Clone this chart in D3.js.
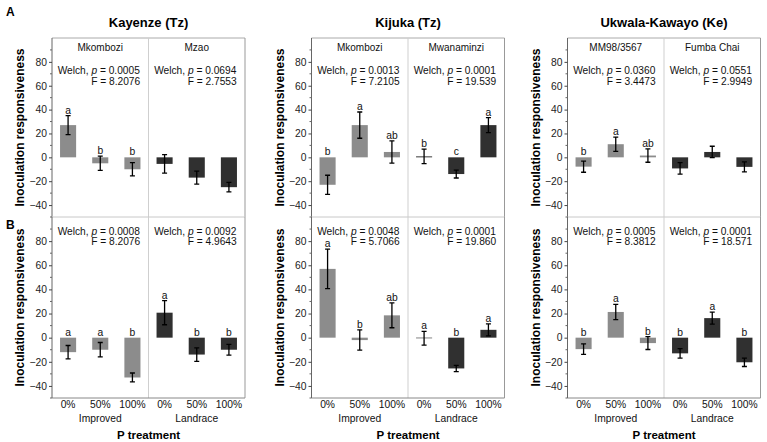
<!DOCTYPE html>
<html><head><meta charset="utf-8">
<script src="https://cdn.jsdelivr.net/npm/d3@7"></script>
<style>body{margin:0;background:#fff}svg{display:block}text{font-family:"Liberation Sans",Arial,sans-serif}</style>
</head><body>
<svg id="chart" width="767" height="442"></svg>
<script>
const sites = ["Kayenze (Tz)", "Kijuka (Tz)", "Ukwala-Kawayo (Ke)"];
const cultivars = [["Mkombozi","Mzao"],["Mkombozi","Mwanaminzi"],["MM98/3567","Fumba Chai"]];
const treatments = ["0%","50%","100%"];
const groups = ["Improved","Landrace"];
const yTicks = [-40,-20,0,20,40,60,80];
const yMinor = [-50,-30,-10,10,30,50,70,90];
const meansA = [[27,-5,-10,-5.5,-17,-25],[-23,27,4.5,0.8,-14,27],[-7.8,11,1.5,-9.3,4.5,-8]];
const errsA  = [[8,6,5.5,7.7,5.5,4],[8,11,9.3,6,3.3,6.3],[4.7,6,5.6,4.8,4.8,4.2]];
const lettersA = [["a","b","b","","",""],["b","a","ab","b","c","a"],["b","a","ab","","",""]];
const meansB = [[-12,-10,-33,20.7,-14,-10],[57,-2,18.5,-0.5,-25.5,6.5],[-9.5,21.3,-4.5,-13,16.2,-20.4]];
const errsB  = [[5.5,6,3.7,10,5.6,4.4],[16.3,8.4,10.3,5.7,2.6,5],[4.4,6.3,5.3,3.9,5,3.5]];
const lettersB = [["a","a","b","a","b","b"],["a","b","ab","a","b","a"],["b","a","b","b","a","b"]];
const welchPA = [["0.0005","0.0694"],["0.0013","0.0001"],["0.0360","0.0551"]];
const fA = [["8.2076","2.7553"],["7.2105","19.539"],["3.4473","2.9949"]];
const welchPB = [["0.0008","0.0092"],["0.0048","0.0001"],["0.0005","0.0001"]];
const fB = [["8.2076","4.9643"],["5.7066","19.860"],["8.3812","18.571"]];

const colImp = "#8c8c8c", colLand = "#303030";
const svg = d3.select("#chart");
const lefts = [52, 311.5, 567.5];
const W = 193;
const rowsY = [[38, 217], [217, 398]];

// panel letters
svg.append("text").attr("x", 6).attr("y", 16).attr("font-size", 12).attr("font-weight", "bold").text("A");
svg.append("text").attr("x", 6).attr("y", 229).attr("font-size", 12).attr("font-weight", "bold").text("B");

sites.forEach((site, si) => {
  const L = lefts[si];
  const g = svg.append("g");
  const cats = d3.range(6);
  const x = d3.scaleBand().domain(cats).range([L, L + W]).paddingInner(0.5).paddingOuter(0.25);
  const divX = (x(2) + x.bandwidth() + x(3)) / 2;

  g.append("text").attr("x", L + W / 2).attr("y", 26.5).attr("text-anchor", "middle")
    .attr("font-size", 13).attr("font-weight", "bold").text(site);

  [0, 1].forEach(ri => {
    const [top, bot] = rowsY[ri];
    const y = d3.scaleLinear().domain([-50, 100]).range([bot, top]);
    const means = ri === 0 ? meansA[si] : meansB[si];
    const errs = ri === 0 ? errsA[si] : errsB[si];
    const letters = ri === 0 ? lettersA[si] : lettersB[si];
    const ps = ri === 0 ? welchPA[si] : welchPB[si];
    const fs = ri === 0 ? fA[si] : fB[si];

    // frame
    g.append("line").attr("x1", L).attr("x2", L + W).attr("y1", top).attr("y2", top).attr("stroke", ri === 0 ? "#aaa" : "#c8c8c8");
    g.append("line").attr("x1", L + W).attr("x2", L + W).attr("y1", top).attr("y2", bot).attr("stroke", "#999");
    g.append("line").attr("x1", divX).attr("x2", divX).attr("y1", top).attr("y2", bot).attr("stroke", "#cfcfcf");
    if (ri === 1) g.append("line").attr("x1", L).attr("x2", L + W).attr("y1", bot).attr("y2", bot).attr("stroke", "#888");

    // y axis
    const ax = g.append("g").attr("transform", `translate(${L},0)`)
      .call(d3.axisLeft(y).tickValues(yTicks).tickSize(3).tickPadding(2));
    ax.select(".domain").attr("stroke", "#666").attr("d", `M0,${top}V${bot}`);
    ax.selectAll(".tick line").attr("stroke", "#444");
    ax.selectAll(".tick text").attr("font-size", 10.3).attr("fill", "#222").style("font-family", '"Liberation Sans",Arial,sans-serif');
    g.selectAll(null).data(yMinor).enter().append("line")
      .attr("x1", L - 2).attr("x2", L).attr("y1", d => y(d)).attr("y2", d => y(d)).attr("stroke", "#666");

    // y label
    g.append("text").attr("transform", `translate(${L - 28},${(top + bot) / 2}) rotate(-90)`)
      .attr("text-anchor", "middle").attr("font-size", 12).attr("font-weight", "bold").text("Inoculation responsiveness");

    // bars
    g.selectAll(null).data(cats).enter().append("rect")
      .attr("x", i => x(i)).attr("width", x.bandwidth())
      .attr("y", i => y(Math.max(0, means[i])))
      .attr("height", i => Math.abs(y(means[i]) - y(0)))
      .attr("fill", i => i < 3 ? colImp : colLand);
    // error bars
    const cx = i => x(i) + x.bandwidth() / 2;
    g.selectAll(null).data(cats).enter().append("path")
      .attr("d", i => {
        const y1 = y(means[i] + errs[i]), y2 = y(means[i] - errs[i]), c = cx(i);
        return `M${c - 2.5},${y1}H${c + 2.5}M${c},${y1}V${y2}M${c - 2.5},${y2}H${c + 2.5}`;
      })
      .attr("stroke", "#000").attr("stroke-width", 1.3).attr("fill", "none");
    // letters
    g.selectAll(null).data(cats).enter().append("text")
      .attr("x", cx).attr("y", i => y(Math.max(0, means[i] + errs[i])) - 2)
      .attr("text-anchor", "middle").attr("font-size", 10.3).attr("fill", "#111").text(i => letters[i]);

    // stats text
    [0, 1].forEach(k => {
      const sl = k === 0 ? L : divX, sr = k === 0 ? divX : L + W;
      const scx = (sl + sr) / 2 - 1.5;
      const baseW = ri === 0 ? top + 36 : top + 17.5;
      if (ri === 0) {
        g.append("text").attr("x", (sl + sr) / 2).attr("y", top + 13.3).attr("text-anchor", "middle")
          .attr("font-size", 10).attr("fill", "#111").text(cultivars[si][k]);
      }
      const t = g.append("text").attr("x", scx).attr("y", baseW).attr("text-anchor", "middle")
        .attr("font-size", 10.2).attr("fill", "#111");
      t.append("tspan").text("Welch, ");
      t.append("tspan").attr("font-style", "italic").text("p");
      t.append("tspan").text(" = " + ps[k]);
      const bb = t.node().getBBox();
      g.append("text").attr("x", bb.x + bb.width).attr("y", baseW + 10.8).attr("text-anchor", "end")
        .attr("font-size", 10.2).attr("fill", "#111").text("F = " + fs[k]);
    });

    if (ri === 1) {
      g.selectAll(null).data(cats).enter().append("text")
        .attr("x", cx).attr("y", 408).attr("text-anchor", "middle").attr("font-size", 10.3).attr("fill", "#111")
        .text(i => treatments[i % 3]);
      groups.forEach((gr, k) => {
        g.append("text").attr("x", cx(k * 3 + 1)).attr("y", 421.5).attr("text-anchor", "middle")
          .attr("font-size", 10.3).attr("fill", "#111").text(gr);
      });
      g.append("text").attr("x", L + W / 2).attr("y", 439).attr("text-anchor", "middle")
        .attr("font-size", 11.5).attr("font-weight", "bold").text("P treatment");
    }
  });
});
</script>
</body></html>
